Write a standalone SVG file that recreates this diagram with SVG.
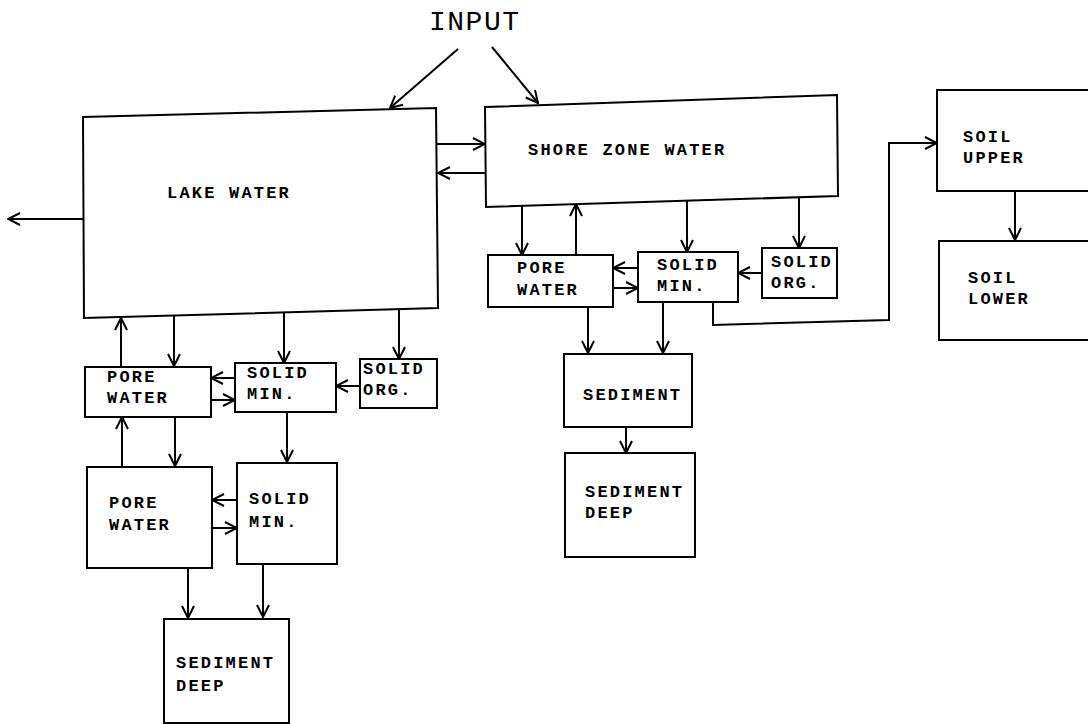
<svg xmlns="http://www.w3.org/2000/svg" width="1088" height="724" viewBox="0 0 1088 724">
<style>
.b{fill:#fff;stroke:#000;stroke-width:2}
.t{font-family:"Liberation Mono","DejaVu Sans Mono",monospace;font-size:17px;letter-spacing:2.2px;font-weight:bold;fill:#000}
.c{fill:none;stroke:#000;stroke-width:2}
</style>
<defs>
<marker id="ah" viewBox="0 0 14 14" refX="13" refY="7" markerWidth="14" markerHeight="14" markerUnits="userSpaceOnUse" orient="auto">
<path d="M1,1 L13,7 L1,13" fill="none" stroke="#000" stroke-width="2"/>
</marker>
</defs>
<rect width="1088" height="724" fill="#fff"/>
<text x="429" y="30" font-family="Liberation Mono, monospace" font-size="28" letter-spacing="1.5" fill="#000">INPUT</text>
<g id="connectors" class="c" marker-end="url(#ah)">
<line x1="458" y1="49" x2="390" y2="108"/>
<line x1="492" y1="47" x2="538" y2="103"/>
<line x1="437" y1="144" x2="485" y2="144"/>
<line x1="486" y1="173" x2="438" y2="173"/>
<line x1="83" y1="219" x2="8" y2="219"/>
<line x1="121" y1="367" x2="121" y2="318"/>
<line x1="174" y1="316" x2="174" y2="366"/>
<line x1="284" y1="313" x2="284" y2="363"/>
<line x1="399" y1="310" x2="399" y2="359"/>
<line x1="360" y1="386" x2="336" y2="386"/>
<line x1="235" y1="378" x2="211" y2="378"/>
<line x1="211" y1="400" x2="235" y2="400"/>
<line x1="122" y1="466" x2="122" y2="417"/>
<line x1="175" y1="417" x2="175" y2="466"/>
<line x1="287" y1="412" x2="287" y2="462"/>
<line x1="237" y1="500" x2="212" y2="500"/>
<line x1="212" y1="528" x2="237" y2="528"/>
<line x1="188" y1="568" x2="188" y2="618"/>
<line x1="263" y1="564" x2="263" y2="617"/>
<line x1="522" y1="206" x2="522" y2="255"/>
<line x1="576" y1="254" x2="576" y2="204"/>
<line x1="687" y1="200" x2="687" y2="252"/>
<line x1="799" y1="197" x2="799" y2="248"/>
<line x1="762" y1="273" x2="738" y2="273"/>
<line x1="638" y1="268" x2="613" y2="268"/>
<line x1="613" y1="288" x2="638" y2="288"/>
<line x1="588" y1="307" x2="588" y2="353"/>
<line x1="663" y1="302" x2="663" y2="353"/>
<line x1="626" y1="427" x2="626" y2="453"/>
<polyline points="713,302 713,325 889,320 889,143 937,143"/>
<line x1="1015" y1="190" x2="1015" y2="240"/>
</g>
<g id="lake-water"><polygon class="b" points="83,117 436,108 438,308 84,318"/><text class="t" x="167" y="198">LAKE WATER</text></g>
<g id="shore-zone-water"><polygon class="b" points="485,107 837,95 838,196 486,207"/><text class="t" x="528" y="155">SHORE ZONE WATER</text></g>
<g id="lake-pore-water-1"><rect class="b" x="85" y="367" width="126" height="50"/><text class="t" x="107" y="382">PORE</text><text class="t" x="107" y="403">WATER</text></g>
<g id="lake-solid-min-1"><rect class="b" x="235" y="363" width="101" height="49"/><text class="t" x="247" y="378">SOLID</text><text class="t" x="247" y="399">MIN.</text></g>
<g id="lake-solid-org"><rect class="b" x="360" y="359" width="77" height="49"/><text class="t" x="363" y="374">SOLID</text><text class="t" x="363" y="395">ORG.</text></g>
<g id="lake-pore-water-2"><rect class="b" x="87" y="467" width="125" height="101"/><text class="t" x="109" y="508">PORE</text><text class="t" x="109" y="530">WATER</text></g>
<g id="lake-solid-min-2"><rect class="b" x="237" y="463" width="100" height="101"/><text class="t" x="249" y="504">SOLID</text><text class="t" x="249" y="527">MIN.</text></g>
<g id="lake-sediment-deep"><rect class="b" x="164" y="619" width="125" height="104"/><text class="t" x="176" y="668">SEDIMENT</text><text class="t" x="176" y="691">DEEP</text></g>
<g id="shore-pore-water"><rect class="b" x="488" y="255" width="125" height="52"/><text class="t" x="517" y="273">PORE</text><text class="t" x="517" y="295">WATER</text></g>
<g id="shore-solid-min"><rect class="b" x="638" y="252" width="100" height="50"/><text class="t" x="657" y="270">SOLID</text><text class="t" x="657" y="291">MIN.</text></g>
<g id="shore-solid-org"><rect class="b" x="762" y="248" width="75" height="50"/><text class="t" x="771" y="267">SOLID</text><text class="t" x="771" y="288">ORG.</text></g>
<g id="shore-sediment"><rect class="b" x="564" y="354" width="128" height="73"/><text class="t" x="583" y="400">SEDIMENT</text></g>
<g id="shore-sediment-deep"><rect class="b" x="565" y="453" width="130" height="104"/><text class="t" x="585" y="497">SEDIMENT</text><text class="t" x="585" y="518">DEEP</text></g>
<g id="soil-upper"><rect class="b" x="937" y="90" width="160" height="101"/><text class="t" x="963" y="142">SOIL</text><text class="t" x="963" y="163">UPPER</text></g>
<g id="soil-lower"><rect class="b" x="939" y="241" width="160" height="99"/><text class="t" x="968" y="283">SOIL</text><text class="t" x="968" y="304">LOWER</text></g>
</svg>
